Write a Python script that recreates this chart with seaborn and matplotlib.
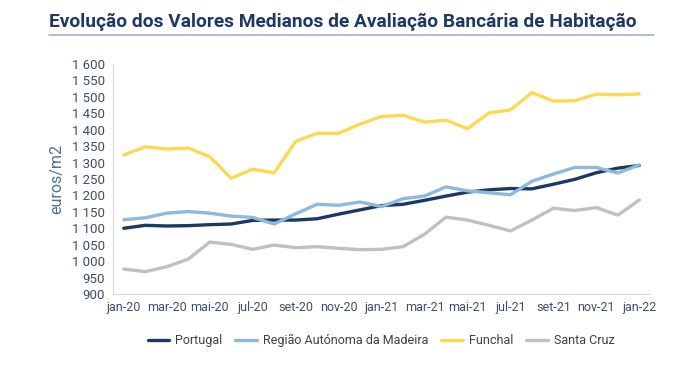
import numpy as np
import pandas as pd
import matplotlib
matplotlib.use("Agg")
import matplotlib.pyplot as plt
from matplotlib.ticker import FuncFormatter, FixedLocator
import seaborn as sns

# months jan-20 .. jan-22
months = ["jan-20", "fev-20", "mar-20", "abr-20", "mai-20", "jun-20", "jul-20", "ago-20",
          "set-20", "out-20", "nov-20", "dez-20", "jan-21", "fev-21", "mar-21", "abr-21",
          "mai-21", "jun-21", "jul-21", "ago-21", "set-21", "out-21", "nov-21", "dez-21",
          "jan-22"]

portugal = [1100, 1109, 1107, 1108, 1111, 1113, 1124, 1125, 1125, 1129, 1143, 1156, 1169,
            1173, 1185, 1198, 1210, 1217, 1221, 1220, 1234, 1249, 1269, 1283, 1291]
madeira = [1126, 1132, 1146, 1151, 1146, 1137, 1133, 1113, 1144, 1173, 1170, 1180, 1166,
           1190, 1198, 1226, 1214, 1208, 1202, 1243, 1265, 1285, 1285, 1268, 1293]
funchal = [1323, 1348, 1341, 1344, 1318, 1252, 1280, 1269, 1364, 1389, 1389, 1417, 1440,
           1444, 1423, 1429, 1403, 1451, 1460, 1513, 1487, 1488, 1508, 1506, 1509]
santa_cruz = [976, 968, 983, 1006, 1058, 1051, 1036, 1049, 1041, 1044, 1039, 1035, 1036,
              1044, 1082, 1134, 1125, 1109, 1092, 1125, 1161, 1154, 1163, 1140, 1186]

series_names = ["Portugal", "Região Autónoma da Madeira", "Funchal", "Santa Cruz"]
palette = ["#1B3A63", "#8DB9DD", "#FCD955", "#C0C0C0"]

df = pd.DataFrame({
    "idx": list(range(len(months))) * 4,
    "valor": portugal + madeira + funchal + santa_cruz,
    "serie": np.repeat(series_names, len(months)),
})

sns.set_style("white")
plt.rcParams["font.family"] = ["Roboto", "DejaVu Sans"]

fig = plt.figure(figsize=(6.99, 3.76), dpi=100)
ax = fig.add_axes([0.1617, 0.218, 0.7683, 0.612])

sns.lineplot(data=df, x="idx", y="valor", hue="serie", hue_order=series_names,
             palette=palette, linewidth=2.4, ax=ax, legend=True)

ax.set_xlim(-0.5, len(months) - 0.5)
ax.set_ylim(900, 1600)
ax.set_yticks(np.arange(900, 1601, 50))
ax.yaxis.set_major_formatter(FuncFormatter(lambda v, p: f"{v:,.0f}".replace(",", " ")))
ax.set_xticks(range(0, len(months), 2))
ax.set_xticklabels(months[::2])
ax.xaxis.set_minor_locator(FixedLocator(np.arange(-0.5, len(months), 2)))

label_col = "#3E4E68"
ax.tick_params(axis="x", which="major", length=0, pad=5, labelsize=9, labelcolor=label_col)
ax.tick_params(axis="x", which="minor", length=4, color="#D9D9D9", width=0.8)
ax.tick_params(axis="y", length=4, color="#D9D9D9", width=0.8, pad=2, labelsize=9.5,
               labelcolor=label_col)

for s in ["top", "right"]:
    ax.spines[s].set_visible(False)
for s in ["left", "bottom"]:
    ax.spines[s].set_color("#D9D9D9")
    ax.spines[s].set_linewidth(0.8)

ax.set_xlabel("")
ax.set_ylabel("euros/m2", color="#4F6F99", fontsize=11.5, labelpad=5)

handles, labels = ax.get_legend_handles_labels()
ax.get_legend().remove()
leg = fig.legend(handles, labels, loc="center", bbox_to_anchor=(381 / 699, 0.094), ncol=4,
                 frameon=False, fontsize=9, handlelength=1.7, columnspacing=1.05,
                 handletextpad=0.5)
for t in leg.get_texts():
    t.set_color("#404040")
for line in leg.get_lines():
    line.set_linewidth(2.4)

fig.text(0.070, 0.928, "Evolução dos Valores Medianos de Avaliação Bancária de Habitação",
         fontsize=13.8, fontweight="bold", color="#1F3864", va="baseline", ha="left")
fig.add_artist(plt.Line2D([0.070, 0.936], [0.907, 0.907], transform=fig.transFigure,
                          color="#9DB4CC", linewidth=1.2))

fig.savefig("out.png", dpi=100)
